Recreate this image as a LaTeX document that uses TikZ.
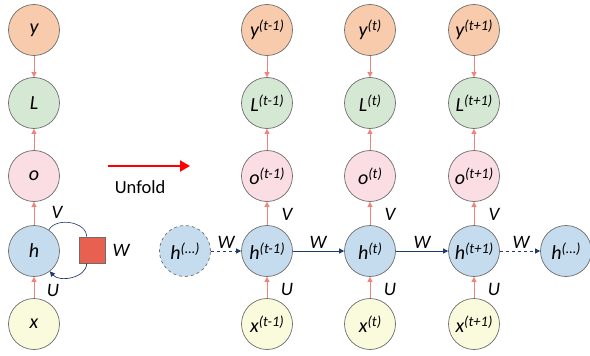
\documentclass[tikz,border=0pt]{standalone}
\usepackage{fontspec}
\setmainfont{Carlito}
\usetikzlibrary{arrows.meta,calc}
\definecolor{cy}{HTML}{F8CBAD}
\definecolor{cL}{HTML}{D5E8D4}
\definecolor{co}{HTML}{FADEE3}
\definecolor{ch}{HTML}{C5DCEF}
\definecolor{cx}{HTML}{FAFADC}
\definecolor{cred}{HTML}{F0857B}
\definecolor{cnavy}{HTML}{1F3A6E}
\definecolor{csq}{HTML}{E8604F}
\newcommand{\lbl}[2]{{\fontsize{20}{20}\selectfont\itshape #1}\raisebox{6pt}{\fontsize{14.5}{14.5}\selectfont\itshape #2}}
\begin{document}
\begin{tikzpicture}[x=1pt,y=-1pt,
  nd/.style={circle,draw=gray!85!black,line width=0.7pt,minimum size=51pt,inner sep=0pt},
  ny/.style={nd,fill=cy}, nL/.style={nd,fill=cL}, no/.style={nd,fill=co},
  nh/.style={nd,fill=ch}, nx/.style={nd,fill=cx},
  ra/.style={draw=cred,line width=0.8pt,-{Triangle[length=5pt,width=5pt]}},
  wa/.style={draw=cnavy,line width=0.7pt,-{Triangle[length=5pt,width=5pt]}},
  wl/.style={font=\fontsize{19}{19}\selectfont\itshape},
]
\useasboundingbox (0,0) rectangle (590,356);
% left folded column
\node[ny] (y) at (34,30) {\lbl{y}{}};
\node[nL] (L) at (34,103) {\lbl{L}{}};
\node[no] (o) at (34,176) {\lbl{o}{}};
\node[nh] (h) at (34,251) {\lbl{h}{}};
\node[nx] (x) at (34,324) {\lbl{x}{}};
\draw[ra] (y) -- (L);
\draw[ra] (o) -- (L);
\draw[ra] (h) -- (o);
\draw[ra] (x) -- (h);
\node[wl] (Vl) at (57,212) {V};
\node[wl] (Ul) at (53,290) {U};
\node[draw=gray!85!black,line width=0.7pt,fill=csq,minimum size=26pt,inner sep=0pt] (sq) at (92,250) {};
\node[wl] (Wl) at (121,250) {W};
\coordinate (sqt) at ($(sq.north west)!0.3!(sq.north east)$);
\coordinate (sqb) at ($(sq.south west)!0.3!(sq.south east)$);
\draw[cnavy,line width=0.6pt] (h.55) to[out=60,in=90,looseness=1.0] (sqt);
\draw[wa] (sqb) to[out=-90,in=-50,looseness=1.0] (h.-52);
% unfold
\draw[draw=red,line width=2pt,-{Triangle[length=10pt,width=11pt]}] (108,166) -- (190,166) coordinate (ua);
\node[font=\fontsize{18.5}{18.5}\selectfont] (unf) at (140,187) {Unfold};
% unrolled
\node[nh,dashed] (hs) at (185,251) {\lbl{h}{(…)}};
\node[nh] (he) at (566,251) {\lbl{h}{(…)}};
\foreach \n/\cx/\s in {a/267/(t-1),b/370/(t),c/474/(t+1)}{
  \node[ny] (y\n) at (\cx,30) {\lbl{y}{\s}};
  \node[nL] (L\n) at (\cx,103) {\lbl{L}{\s}};
  \node[no] (o\n) at (\cx,176) {\lbl{o}{\s}};
  \node[nh] (h\n) at (\cx,251) {\lbl{h}{\s}};
  \node[nx] (x\n) at (\cx,324) {\lbl{x}{\s}};
  \draw[ra] (y\n) -- (L\n);
  \draw[ra] (o\n) -- (L\n);
  \draw[ra] (h\n) -- (o\n);
  \draw[ra] (x\n) -- (h\n);
  \node[wl] at (\cx+20,214) {V};
  \node[wl] at (\cx+20,289) {U};
}
\draw[wa,dashed] (hs) -- (ha);
\draw[wa] (ha) -- (hb);
\draw[wa] (hb) -- (hc);
\draw[wa,dashed] (hc) -- (he);
\node[wl] at (226,242) {W};
\node[wl] at (318,242) {W};
\node[wl] at (422,242) {W};
\node[wl] at (521,242) {W};
\end{tikzpicture}
\end{document}
